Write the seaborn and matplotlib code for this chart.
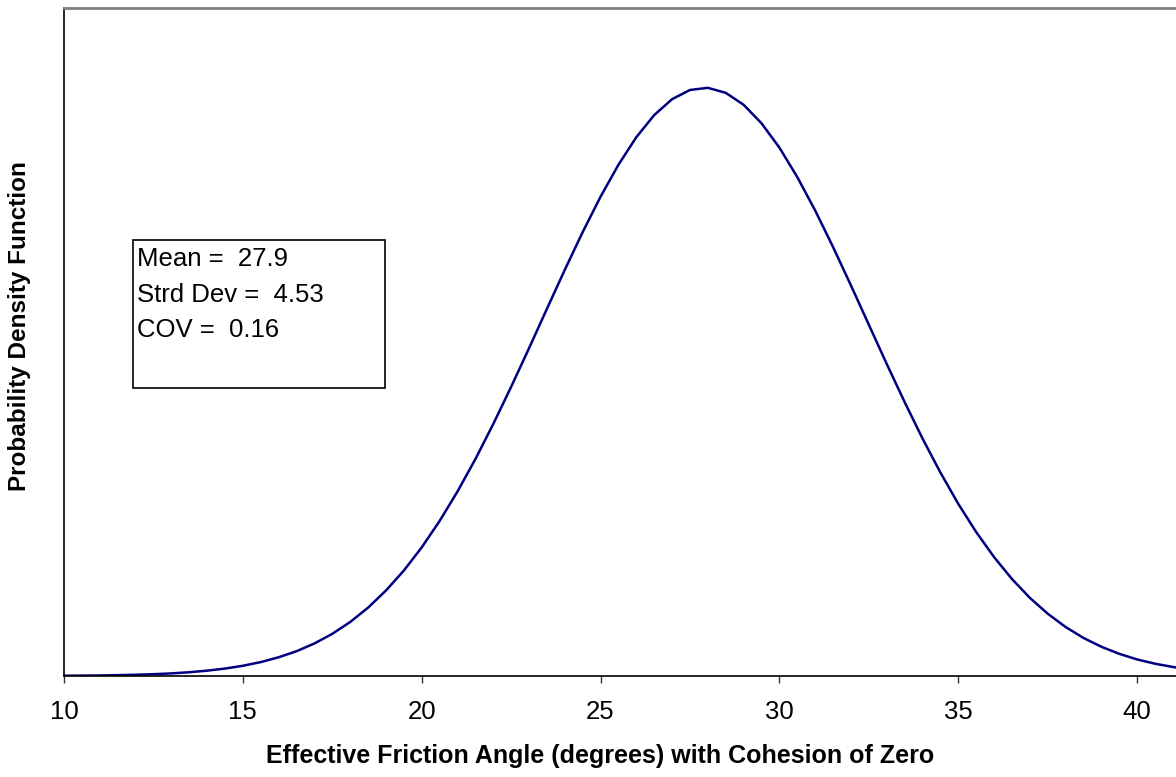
import matplotlib
matplotlib.use("Agg")
import matplotlib.pyplot as plt
import matplotlib.patches as patches
import seaborn as sns
import pandas as pd

# friction angle (deg) and pdf values, every half degree
angle = [10, 10.5, 11, 11.5, 12, 12.5, 13, 13.5, 14, 14.5, 15, 15.5, 16, 16.5,
         17, 17.5, 18, 18.5, 19, 19.5, 20, 20.5, 21, 21.5, 22, 22.5, 23, 23.5,
         24, 24.5, 25, 25.5, 26, 26.5, 27, 27.5, 28, 28.5, 29, 29.5, 30, 30.5,
         31, 31.5, 32, 32.5, 33, 33.5, 34, 34.5, 35, 35.5, 36, 36.5, 37, 37.5,
         38, 38.5, 39, 39.5, 40, 40.5, 41, 41.5, 42]
pdf = [0.00004, 0.00006, 0.00008, 0.00013, 0.00019, 0.00027, 0.00039, 0.00056,
       0.00080, 0.00111, 0.00153, 0.00208, 0.00280, 0.00371, 0.00487, 0.00631,
       0.00808, 0.01023, 0.01279, 0.01578, 0.01925, 0.02320, 0.02761, 0.03246,
       0.03772, 0.04328, 0.04906, 0.05496, 0.06080, 0.06645, 0.07175, 0.07653,
       0.08066, 0.08397, 0.08635, 0.08773, 0.08805, 0.08730, 0.08551, 0.08274,
       0.07910, 0.07469, 0.06969, 0.06422, 0.05847, 0.05259, 0.04672, 0.04102,
       0.03556, 0.03047, 0.02578, 0.02156, 0.01781, 0.01453, 0.01171, 0.00933,
       0.00734, 0.00570, 0.00438, 0.00332, 0.00248, 0.00184, 0.00135, 0.00097,
       0.00069]
stats_lines = ["Mean =  27.9", "Strd Dev =  4.53", "COV =  0.16"]
xticks = [10, 15, 20, 25, 30, 35, 40]

sns.set_style("white")
plt.rcParams['font.family'] = ['Liberation Sans', 'DejaVu Sans']
plt.rcParams['text.color'] = 'black'
plt.rcParams['axes.labelcolor'] = 'black'
plt.rcParams['xtick.color'] = 'black'

df = pd.DataFrame({"angle": angle, "pdf": pdf})

fig = plt.figure(figsize=(11.76, 7.77), dpi=100)
W, H = 1176, 777
AW = 32 * 35.77  # axes width in px
# axes: left 64px, top 8px, bottom 676px, right runs past the edge
ax = fig.add_axes([64 / W, (H - 676) / H, AW / W, 668 / H])

sns.lineplot(x="angle", y="pdf", data=df, ax=ax, color="#000080", linewidth=1.8)

ax.set_xlim(10, 42)
ax.set_ylim(0, 0.1)
ax.set_xticks(xticks)
ax.set_yticks([])
ax.tick_params(axis="x", direction="out", length=5, width=1, color="#333333",
               labelsize=18.5, pad=12, bottom=True)

for s in ["left", "bottom"]:
    ax.spines[s].set_color("black")
    ax.spines[s].set_linewidth(1.2)
ax.spines["top"].set_color("#808080")
ax.spines["top"].set_linewidth(2)
ax.spines["right"].set_visible(False)

ax.set_xlabel("Effective Friction Angle (degrees) with Cohesion of Zero",
              fontsize=18, fontweight="bold")
ax.set_ylabel("Probability Density Function", fontsize=17.5, fontweight="bold")
ax.xaxis.set_label_coords((600 - 64) / AW, -68 / 668)
ax.yaxis.set_label_coords(-33 / AW, (676 - 326) / 668)

# stats box
box = patches.Rectangle((133 / W, (H - 388) / H), 252 / W, 148 / H,
                        transform=fig.transFigure, fill=False,
                        edgecolor="black", linewidth=1.2)
fig.patches.append(box)
for i, line in enumerate(stats_lines):
    fig.text(137 / W, (H - 259 - i * 35.5) / H, line, fontsize=18.5,
             va="center", ha="left")

fig.savefig("out.png", dpi=100)
